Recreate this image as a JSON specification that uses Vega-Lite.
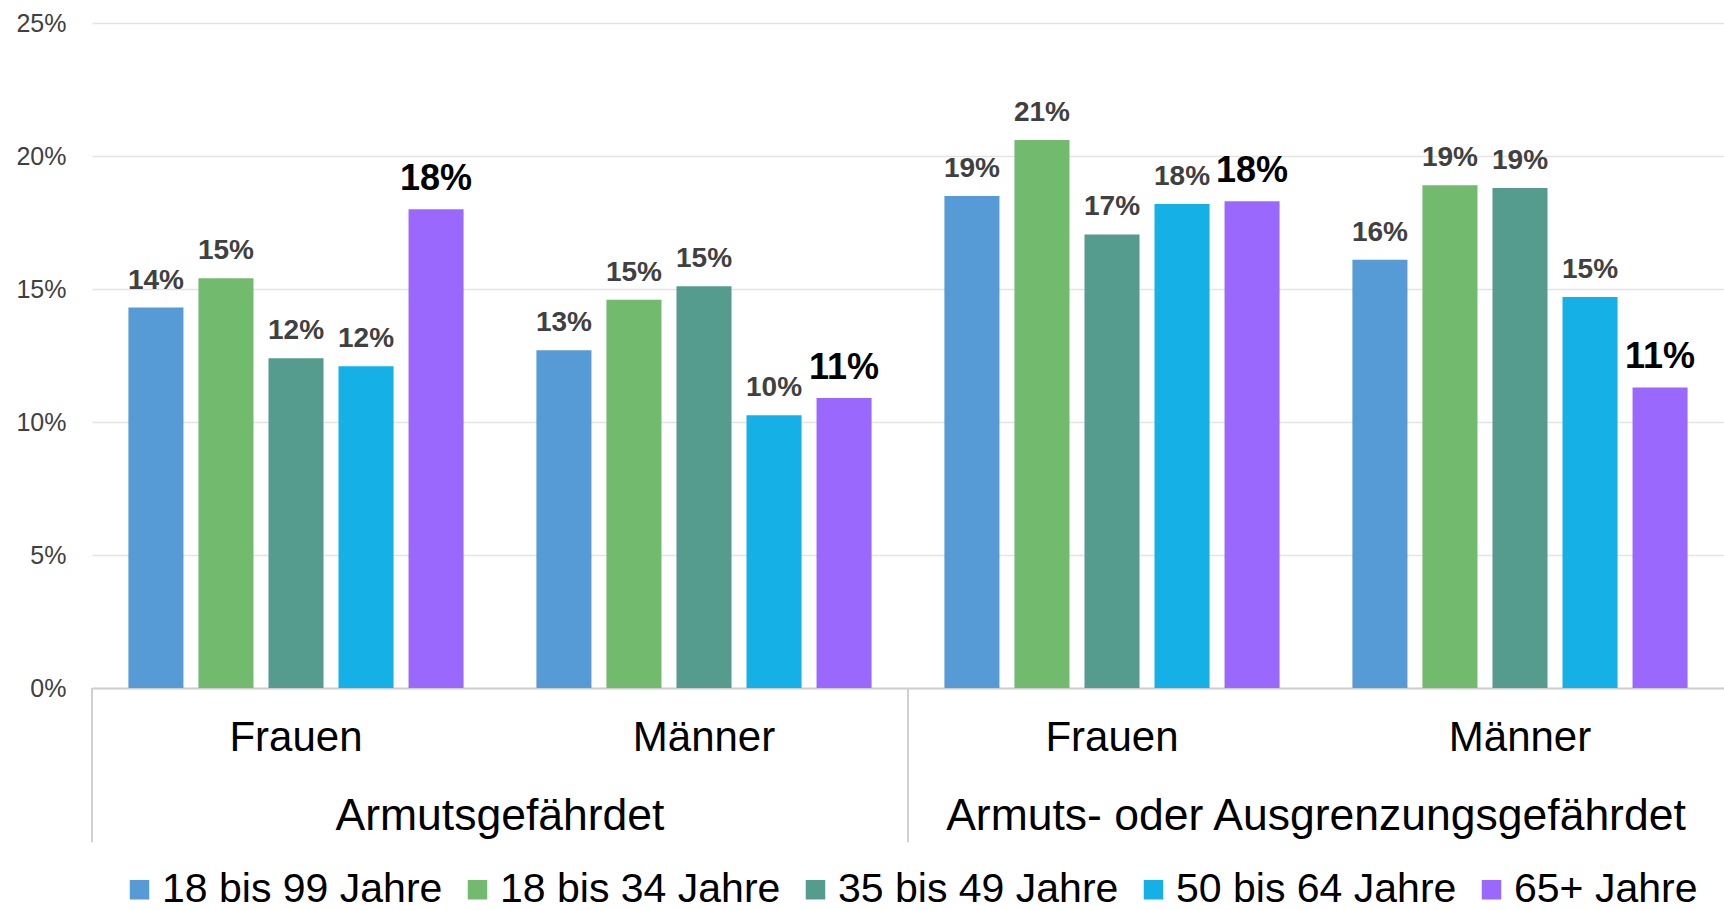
{
  "$schema": "https://vega.github.io/schema/vega-lite/v6.json",
  "autosize": {"type": "none"},
  "padding": {"left": 92, "top": 23, "right": 0, "bottom": 222},
  "width": 1632,
  "height": 665,
  "config": {
    "view": {"stroke": null},
    "font": "Liberation Sans",
    "legend": {"layout": {"bottom": {"anchor": "middle"}}}
  },
  "datasets": {
    "bars": [
      {"cat": "A|Frauen", "age": "18 bis 99 Jahre", "value": 0.143},
      {"cat": "A|Frauen", "age": "18 bis 34 Jahre", "value": 0.154},
      {"cat": "A|Frauen", "age": "35 bis 49 Jahre", "value": 0.124},
      {"cat": "A|Frauen", "age": "50 bis 64 Jahre", "value": 0.121},
      {"cat": "A|Frauen", "age": "65+ Jahre", "value": 0.180},
      {"cat": "A|Männer", "age": "18 bis 99 Jahre", "value": 0.127},
      {"cat": "A|Männer", "age": "18 bis 34 Jahre", "value": 0.146},
      {"cat": "A|Männer", "age": "35 bis 49 Jahre", "value": 0.151},
      {"cat": "A|Männer", "age": "50 bis 64 Jahre", "value": 0.1025},
      {"cat": "A|Männer", "age": "65+ Jahre", "value": 0.109},
      {"cat": "B|Frauen", "age": "18 bis 99 Jahre", "value": 0.185},
      {"cat": "B|Frauen", "age": "18 bis 34 Jahre", "value": 0.206},
      {"cat": "B|Frauen", "age": "35 bis 49 Jahre", "value": 0.1705},
      {"cat": "B|Frauen", "age": "50 bis 64 Jahre", "value": 0.182},
      {"cat": "B|Frauen", "age": "65+ Jahre", "value": 0.183},
      {"cat": "B|Männer", "age": "18 bis 99 Jahre", "value": 0.161},
      {"cat": "B|Männer", "age": "18 bis 34 Jahre", "value": 0.189},
      {"cat": "B|Männer", "age": "35 bis 49 Jahre", "value": 0.188},
      {"cat": "B|Männer", "age": "50 bis 64 Jahre", "value": 0.147},
      {"cat": "B|Männer", "age": "65+ Jahre", "value": 0.113}
    ],
    "separators": [
      {"cat": "A|Frauen"},
      {"cat": "B|Frauen"}
    ],
    "groups": [
      {"cat": "A|Frauen", "label": "Armutsgefährdet"},
      {"cat": "B|Frauen", "label": "Armuts- oder Ausgrenzungsgefährdet"}
    ]
  },
  "layer": [
    {
      "data": {"name": "bars"},
      "mark": {"type": "bar"},
      "encoding": {
        "x": {
          "field": "cat", "type": "nominal",
          "sort": ["A|Frauen", "A|Männer", "B|Frauen", "B|Männer"],
          "scale": {"paddingInner": 0, "paddingOuter": 0},
          "axis": {
            "title": null,
            "labelExpr": "split(datum.label, '|')[1]",
            "labelFontSize": 42,
            "labelColor": "#000000",
            "labelPadding": 29,
            "labelAngle": 0,
            "ticks": false,
            "domainColor": "#cfcfcf",
            "domainWidth": 2
          }
        },
        "xOffset": {
          "field": "age", "type": "nominal",
          "sort": ["18 bis 99 Jahre", "18 bis 34 Jahre", "35 bis 49 Jahre", "50 bis 64 Jahre", "65+ Jahre"],
          "scale": {"paddingInner": 0.214, "paddingOuter": 0.52}
        },
        "y": {
          "field": "value", "type": "quantitative",
          "scale": {"domain": [0, 0.25], "nice": false},
          "axis": {
            "title": null,
            "format": ".0%",
            "values": [0, 0.05, 0.1, 0.15, 0.2, 0.25],
            "labelFontSize": 25,
            "labelColor": "#404040",
            "labelPadding": 26,
            "ticks": false,
            "domain": false,
            "gridColor": "#e4e4e4",
            "gridWidth": 1.5
          }
        },
        "color": {
          "field": "age", "type": "nominal",
          "sort": ["18 bis 99 Jahre", "18 bis 34 Jahre", "35 bis 49 Jahre", "50 bis 64 Jahre", "65+ Jahre"],
          "scale": {
            "domain": ["18 bis 99 Jahre", "18 bis 34 Jahre", "35 bis 49 Jahre", "50 bis 64 Jahre", "65+ Jahre"],
            "range": ["#569BD5", "#72BA6E", "#569C8E", "#14B0E6", "#9B68FD"]
          },
          "legend": {
            "title": null,
            "orient": "bottom",
            "direction": "horizontal",
            "columns": 5,
            "symbolType": "square",
            "symbolSize": 380,
            "symbolStrokeWidth": 0,
            "labelFontSize": 41,
            "labelColor": "#000000",
            "labelOffset": 2,
            "labelLimit": 0,
            "columnPadding": 14,
            "offset": 111
          }
        }
      }
    },
    {
      "data": {"name": "bars"},
      "mark": {"type": "text", "baseline": "alphabetic", "dy": -19, "fontWeight": "bold"},
      "encoding": {
        "x": {"field": "cat", "type": "nominal", "sort": ["A|Frauen", "A|Männer", "B|Frauen", "B|Männer"]},
        "xOffset": {"field": "age", "type": "nominal", "sort": ["18 bis 99 Jahre", "18 bis 34 Jahre", "35 bis 49 Jahre", "50 bis 64 Jahre", "65+ Jahre"]},
        "y": {"field": "value", "type": "quantitative"},
        "text": {"field": "value", "type": "quantitative", "format": ".0%"},
        "size": {"condition": {"test": "datum.age === '65+ Jahre'", "value": 36}, "value": 28},
        "color": {"condition": {"test": "datum.age === '65+ Jahre'", "value": "#000000"}, "value": "#404040"}
      }
    },
    {
      "data": {"name": "separators"},
      "mark": {"type": "rule", "color": "#d0d0d0", "strokeWidth": 2},
      "encoding": {
        "x": {"field": "cat", "type": "nominal", "bandPosition": 0, "sort": ["A|Frauen", "A|Männer", "B|Frauen", "B|Männer"]},
        "y": {"datum": 0, "type": "quantitative"},
        "y2": {"datum": -0.058}
      }
    },
    {
      "data": {"name": "groups"},
      "mark": {"type": "text", "fontSize": 44.5, "color": "#000000", "baseline": "middle"},
      "encoding": {
        "x": {"field": "cat", "type": "nominal", "bandPosition": 1, "sort": ["A|Frauen", "A|Männer", "B|Frauen", "B|Männer"]},
        "y": {"datum": -0.0486, "type": "quantitative"},
        "text": {"field": "label"}
      }
    }
  ]
}
